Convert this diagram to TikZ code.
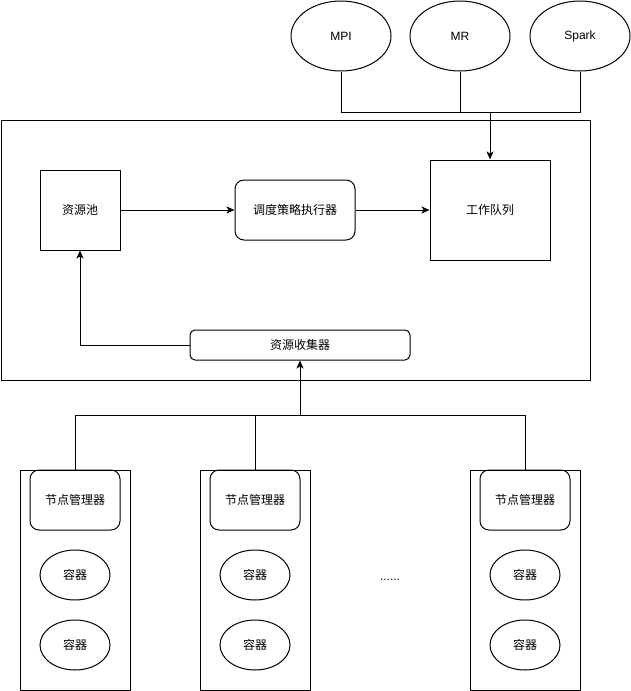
\documentclass[tikz,border=0pt]{standalone}
\usepackage{fontspec}
\setmainfont{Liberation Sans}
\newfontfamily\cjk{Noto Sans CJK SC}
\usetikzlibrary{calc,positioning,shapes.geometric,arrows.meta}
\tikzset{
 sch line/.style={line width=1pt},
 sch arrow/.style={line width=1pt,-{Stealth[length=8pt,width=7pt,inset=2pt]}},
 sch box/.style={draw,line width=1pt,inner sep=0pt,
                 font=\cjk\fontsize{12pt}{14pt}\selectfont},
 sch round/.style={sch box,rounded corners=9pt},
 sch ellipse/.style={sch box,ellipse,minimum width=70pt,minimum height=50pt},
 sch job/.style={sch ellipse,minimum width=100pt,minimum height=70pt,
                 font=\rmfamily\fontsize{12pt}{14pt}\selectfont}
}
\begin{document}
\begin{tikzpicture}[x=1pt,y=-1pt]
 \useasboundingbox (0,0) rectangle (631,691);
 % job types
 \node[sch job] (mpi) at (341,36) {MPI};
 \node[sch job] (mr) at (460,36) {MR};
 \node[sch job] (spark) at (580,36) {Spark};
 % scheduler
 \node[sch box,minimum width=589pt,minimum height=260pt] (sched) at (295.5,250) {};
 \node[sch box,minimum width=80pt,minimum height=80pt] (pool) at (80,210) {资源池};
 \node[sch round,minimum width=120pt,minimum height=60pt] (exec) at (295,210) {调度策略执行器};
 \node[sch box,minimum width=120pt,minimum height=100pt] (queue) at (490,210) {工作队列};
 \node[sch round,rounded corners=5pt,minimum width=220pt,minimum height=30pt]
   (coll) at (300,345) {资源收集器};
 % hosts
 \foreach \i/\x in {1/75,2/255,3/525}{
   \node[sch box,minimum width=110pt,minimum height=220pt] (host\i) at (\x,580) {};
   \node[sch round,minimum width=90pt,minimum height=60pt] (nm\i) at (\x,500) {节点管理器};
   \node[sch ellipse] (ca\i) at (\x,575) {容器};
   \node[sch ellipse] (cb\i) at (\x,645) {容器};
 }
 \node[font=\rmfamily\fontsize{12pt}{14pt}\selectfont,inner sep=0pt] (more) at (390,580) {......};
 % connectors
 \coordinate (jobs) at (490,112);
 \draw[sch line] (mpi.south) |- (jobs);
 \draw[sch line] (spark.south) |- (jobs);
 \draw[sch line] (mr.south) -- (mr.south |- jobs);
 \draw[sch arrow] (jobs) -- (queue.north);
 \draw[sch arrow] (pool) -- (exec);
 \draw[sch arrow] (exec) -- (queue);
 \draw[sch arrow] (coll.west) -| (pool.south);
 \coordinate (hosts) at (300,415);
 \draw[sch line] (nm1.north) |- (hosts);
 \draw[sch line] (nm3.north) |- (hosts);
 \draw[sch line] (nm2.north) -- (nm2.north |- hosts);
 \draw[sch arrow] (hosts) -- (coll.south);
\end{tikzpicture}
\end{document}
